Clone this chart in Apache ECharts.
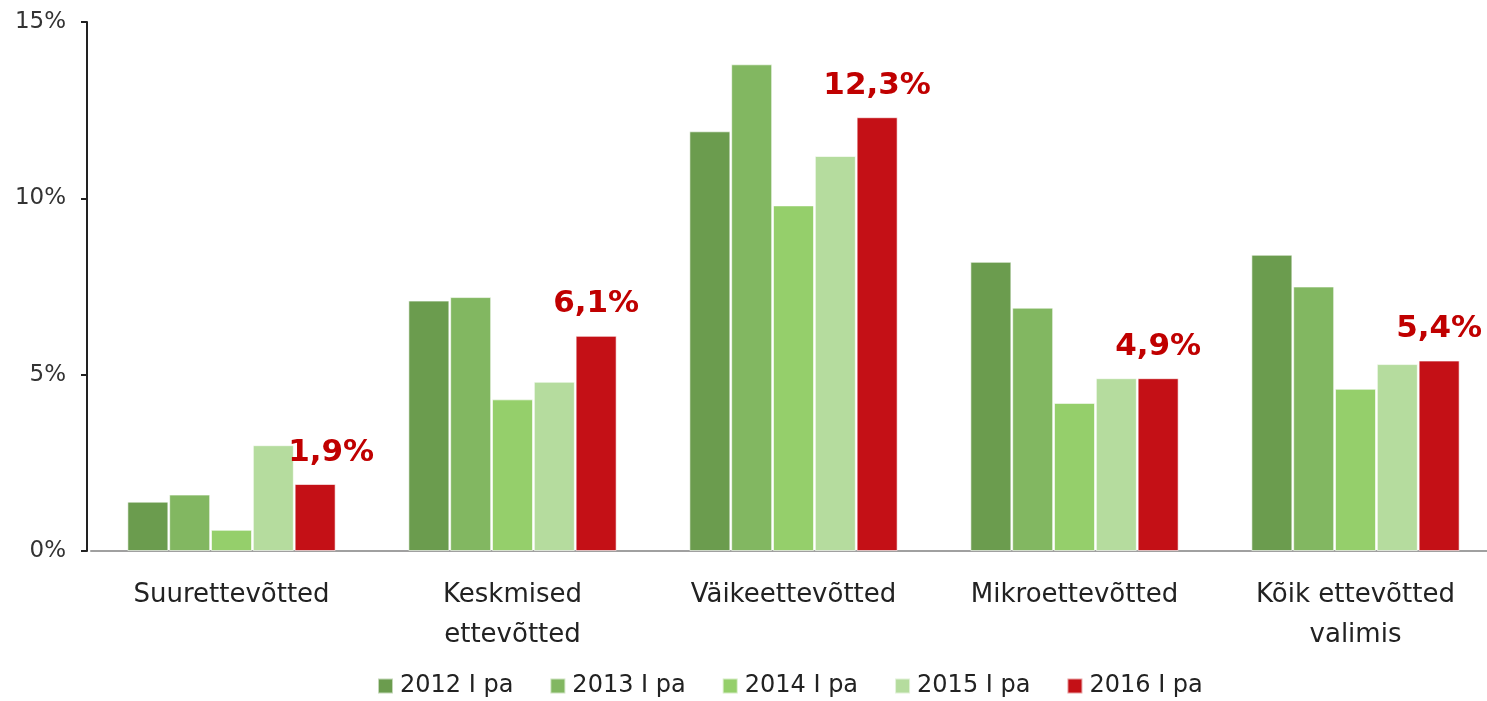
<!DOCTYPE html>
<html>
<head>
  <meta charset="utf-8">
  <title>ettevõtted</title>
  <script src="https://cdn.jsdelivr.net/npm/echarts@6/dist/echarts.min.js"></script>
  <style>
    html, body { margin: 0; padding: 0; background: #fff; overflow: hidden; }
    #main { width: 1500px; height: 701px; }
  </style>
</head>
<body>
  <div id="main"></div>
  <script type="text/javascript">
    // andmed
    var categories = ['Suurettevõtted', 'Keskmised\nettevõtted', 'Väikeettevõtted', 'Mikroettevõtted', 'Kõik ettevõtted\nvalimis']
    var seriesNames = ['2012 I pa', '2013 I pa', '2014 I pa', '2015 I pa', '2016 I pa']
    var v2012 = [1.4, 7.1, 11.9, 8.2, 8.4]
    var v2013 = [1.6, 7.2, 13.8, 6.9, 7.5]
    var v2014 = [0.6, 4.3, 9.8, 4.2, 4.6]
    var v2015 = [3.0, 4.8, 11.2, 4.9, 5.3]
    var v2016 = [1.9, 6.1, 12.3, 4.9, 5.4]
    var yTicks = [0, 5, 10, 15]

    var colors = ['#6b9c4e', '#82b761', '#95cf6b', '#b5dc9e', '#c41016']
    var values = [v2012, v2013, v2014, v2015, v2016]
    var font = 'DejaVu Sans'

    var myChart = echarts.init(document.getElementById('main'))

    var series = []
    for (var i = 0; i < values.length; i++) {
      var s = {
        name: seriesNames[i],
        type: 'bar',
        data: values[i],
        barWidth: 41,
        barGap: '2%',
        itemStyle: { color: colors[i], borderColor: 'rgba(255,255,255,0.6)', borderWidth: 1 }
      }
      if (i == values.length - 1) {
        // ainult viimasel aastal sildid
        s.label = {
          show: true,
          position: 'top',
          distance: 16,
          color: '#c00000',
          fontFamily: font,
          fontWeight: 'bold',
          fontSize: 31,
          formatter: function (p) { return String(p.value).replace('.', ',') + '%' }
        }
        s.data = values[i].map(function (v, k) {
          if (k == 0) return { value: v, label: { offset: [16, 0] } }
          return v
        })
      }
      series.push(s)
    }

    var option = {
      animation: false,
      color: colors,
      grid: { left: 91, width: 1405, top: 22, bottom: 150 },
      legend: {
        data: seriesNames,
        bottom: -2,
        left: 372,
        itemWidth: 15,
        itemHeight: 15,
        itemGap: 36,
        icon: 'rect',
        textStyle: { fontFamily: font, fontSize: 24, color: '#222', padding: [0, 0, 0, 2] }
      },
      xAxis: {
        type: 'category',
        data: categories,
        axisLine: { lineStyle: { color: '#a0a0a0', width: 2 } },
        axisTick: { show: false },
        axisLabel: { fontFamily: font, fontSize: 26, color: '#222', lineHeight: 40, margin: 24, interval: 0 }
      },
      yAxis: {
        type: 'value',
        min: yTicks[0],
        max: yTicks[yTicks.length - 1],
        interval: 5,
        offset: 4,
        splitLine: { show: false },
        axisLine: { show: true, lineStyle: { color: '#222', width: 2 } },
        axisTick: { show: true, length: 6, lineStyle: { color: '#222', width: 2 } },
        axisLabel: {
          fontFamily: font, fontSize: 23, color: '#333', margin: 21,
          formatter: function (v) { return v + '%' }
        }
      },
      series: series
    }

    myChart.setOption(option)
  </script>
</body>
</html>
